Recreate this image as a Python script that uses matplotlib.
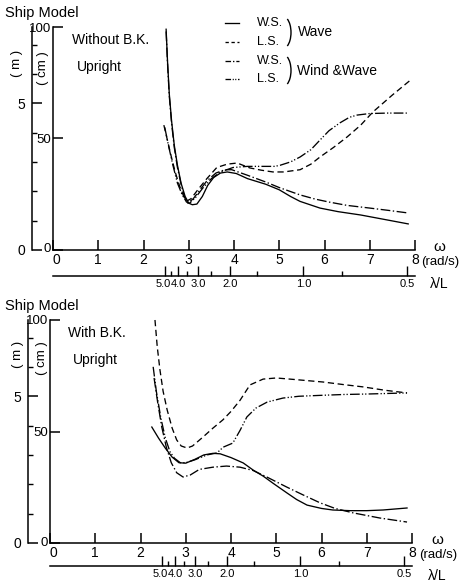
import numpy as np
import matplotlib
matplotlib.use("Agg")
import matplotlib.pyplot as plt
from matplotlib.lines import Line2D
from matplotlib.patches import Arc
from matplotlib.transforms import ScaledTranslation

plt.rcParams['font.family'] = ['Liberation Sans', 'DejaVu Sans']
plt.rcParams['lines.scale_dashes'] = False

# ---------------- data: amplitude (cm) versus wave frequency omega (rad/s) ----------------
# Upper panel: without bilge keels, upright
a_ws_wave_w  = [2.50, 2.53, 2.57, 2.62, 2.68, 2.75, 2.83, 2.92, 3.00, 3.08, 3.18, 3.30, 3.42, 3.55, 3.70, 3.85,
                4.05, 4.30, 4.70, 5.00, 5.25, 5.46, 5.90, 6.30, 6.80, 7.30, 7.85]
a_ws_wave_cm = [99.0, 85.0, 70.0, 58.0, 47.0, 38.0, 30.0, 24.0, 21.0, 20.3, 20.6, 24.0, 29.0, 32.5, 34.5, 35.0,
                34.3, 32.0, 29.5, 27.0, 24.0, 21.8, 18.8, 17.2, 15.7, 13.8, 11.7]

a_ls_wave_w  = [2.45, 2.52, 2.60, 2.70, 2.80, 2.90, 2.96, 3.05, 3.20, 3.40, 3.62, 3.85, 4.07, 4.35, 4.60, 4.86,
                5.10, 5.46, 5.70, 5.90, 6.20, 6.50, 6.80, 7.07, 7.50, 7.93]
a_ls_wave_cm = [56.0, 50.0, 43.0, 35.0, 28.5, 23.5, 22.0, 23.0, 27.0, 32.0, 37.0, 38.5, 39.0, 36.8, 35.8, 35.0,
                35.0, 36.0, 38.5, 41.7, 46.0, 50.7, 56.0, 61.9, 69.5, 76.7]

a_ws_ww_w  = [2.50, 2.53, 2.57, 2.62, 2.68, 2.75, 2.83, 2.91, 2.98, 3.10, 3.25, 3.40, 3.60, 3.80, 3.95, 4.30,
              4.70, 5.00, 5.46, 5.80, 6.10, 6.50, 7.00, 7.40, 7.85]
a_ws_ww_cm = [98.0, 84.0, 69.0, 57.0, 46.0, 37.0, 29.5, 23.5, 21.0, 23.0, 27.0, 31.0, 34.5, 36.0, 36.0, 33.5,
              30.5, 28.0, 24.7, 22.8, 21.5, 20.0, 18.8, 17.8, 16.6]

a_ls_ww_w  = [2.47, 2.55, 2.65, 2.75, 2.85, 2.95, 3.02, 3.15, 3.30, 3.50, 3.70, 3.98, 4.30, 4.60, 4.90, 5.02,
              5.25, 5.46, 5.70, 5.90, 6.10, 6.34, 6.55, 6.72, 7.00, 7.40, 7.82]
a_ls_ww_cm = [55.0, 47.0, 38.0, 30.0, 25.0, 21.5, 21.0, 23.5, 27.5, 32.0, 35.0, 37.0, 37.5, 37.5, 37.5, 38.0,
              39.5, 41.7, 45.0, 49.3, 53.5, 57.0, 59.5, 60.5, 61.2, 61.4, 61.4]

# Lower panel: with bilge keels, upright
b_ws_wave_w  = [2.25, 2.40, 2.55, 2.70, 2.85, 3.00, 3.20, 3.40, 3.60, 3.76, 4.00, 4.27, 4.49, 4.71, 4.95,
                5.24, 5.45, 5.68, 6.00, 6.25, 6.63, 7.00, 7.36, 7.89]
b_ws_wave_cm = [52.0, 47.0, 42.5, 38.5, 36.0, 35.8, 37.5, 39.5, 40.2, 40.0, 38.3, 35.9, 32.7, 30.0, 26.5,
                22.4, 19.5, 17.0, 15.5, 14.8, 14.5, 14.5, 14.8, 15.7]

b_ls_wave_w  = [2.32, 2.37, 2.43, 2.50, 2.59, 2.70, 2.80, 2.90, 3.03, 3.15, 3.38, 3.60, 3.82, 4.00, 4.20,
                4.42, 4.71, 5.00, 5.30, 6.03, 6.50, 6.92, 7.40, 7.89]
b_ls_wave_cm = [100.0, 88.0, 77.6, 68.0, 59.6, 51.5, 46.2, 43.5, 42.6, 43.5, 47.5, 51.5, 55.2, 59.0, 64.0,
                70.9, 73.5, 74.0, 73.5, 72.2, 71.0, 70.0, 68.5, 67.3]

b_ws_ww_w  = [2.30, 2.38, 2.47, 2.57, 2.68, 2.80, 2.94, 3.10, 3.30, 3.60, 3.90, 4.20, 4.49, 4.80, 5.24,
              5.60, 5.97, 6.30, 6.70, 7.29, 7.89]
b_ws_ww_cm = [74.0, 63.0, 52.0, 43.0, 36.0, 31.5, 29.6, 30.5, 33.0, 34.0, 34.5, 34.0, 32.5, 29.5, 25.0,
              21.5, 18.0, 15.5, 13.5, 11.2, 9.4]

b_ls_ww_w  = [2.28, 2.35, 2.45, 2.55, 2.65, 2.75, 2.88, 3.00, 3.20, 3.47, 3.69, 3.83, 4.04, 4.20, 4.35,
              4.55, 4.80, 5.15, 5.50, 5.97, 6.50, 7.00, 7.89]
b_ls_ww_cm = [79.0, 68.0, 56.0, 47.0, 41.0, 38.0, 36.0, 36.0, 37.3, 39.5, 40.4, 43.0, 44.8, 50.5, 56.5,
              60.5, 63.2, 65.0, 65.8, 66.2, 66.6, 66.8, 67.3]

# axis scales and tick labels
omega_ticks = [0, 1, 2, 3, 4, 5, 6, 7, 8]
cm_ticks = [0, 50, 100]
m_major = [0, 5]
m_minor = [1, 2, 3, 4, 6, 7]
m_top = 7.61                       # metres at the 100 cm mark of the scale
lam_major = [5.0, 4.0, 3.0, 2.0, 1.0, 0.5]
lam_major_labels = ['5.0', '4.0', '3.0', '2.0', '1.0', '0.5']
lam_minor = [4.5, 3.5, 2.5, 1.5, 0.75]
lam_const = 30.6                   # deep water: lambda/L = (2*pi*g/L) / omega**2


def lam_to_omega(v):
    return np.sqrt(lam_const / np.asarray(v, dtype=float))


# ---------------- styles ----------------
STY = {
    'ws_wave': dict(ls='-'),
    'ls_wave': dict(ls=(0, (4.5, 2.6))),
    'ws_ww':   dict(ls=(0, (7.0, 1.8, 1.0, 1.8))),
    'ls_ww':   dict(ls=(0, (7.0, 1.6, 0.9, 1.4, 0.9, 1.6))),
}
LW = 0.95

W, H = 461, 588
fig = plt.figure(figsize=(W / 100, H / 100), dpi=100)


def fx(px):
    return px / W


def fy(py):
    return 1 - py / H


def ftext(px, py, s, **kw):
    kw.setdefault('fontsize', 10)
    kw.setdefault('va', 'center')
    kw.setdefault('ha', 'left')
    fig.text(fx(px), fy(py), s, **kw)


def shift(label, dx_px, dy_px=0):
    label.set_transform(label.get_transform()
                        + ScaledTranslation(dx_px / 100, dy_px / 100, fig.dpi_scale_trans))


def panel(left, right, top, bottom, outer, lam_y, curves, title_y, note1, note1_y, note2_y,
          m_lab, cm_lab, right_x_y):
    wfrac = fx(right) - fx(left)
    hfrac = (bottom - top) / H

    # main amplitude axes (cm)
    ax = fig.add_axes([fx(left), fy(bottom), wfrac, hfrac])
    ax.patch.set_visible(False)
    ax.set_xlim(0, 8)
    ax.set_ylim(0, 100)
    for s in ('top', 'right'):
        ax.spines[s].set_visible(False)
    for s in ('left', 'bottom'):
        ax.spines[s].set_linewidth(1.1)
    ax.set_xticks(omega_ticks)
    ax.set_xticklabels([str(t) for t in omega_ticks])
    ax.set_yticks(cm_ticks)
    ax.set_yticklabels([str(t) for t in cm_ticks])
    ax.tick_params(axis='x', direction='in', length=7.5, width=1.1, pad=2.5, labelsize=10)
    ax.tick_params(axis='y', direction='in', length=7, width=1.1, pad=1, labelsize=9.5)
    # nudge the origin labels apart
    shift(ax.get_xticklabels()[0], 3)
    shift(ax.get_yticklabels()[0], -1, 2)
    for key, (w, c) in curves.items():
        ax.plot(w, c, color='black', lw=LW, clip_on=False, **STY[key])

    # metre scale on the outer left
    axm = fig.add_axes([fx(outer), fy(bottom), 0.0005, hfrac])
    axm.patch.set_visible(False)
    axm.set_ylim(0, m_top)
    for s in ('top', 'right', 'bottom'):
        axm.spines[s].set_visible(False)
    axm.spines['left'].set_linewidth(1.1)
    axm.set_xticks([])
    axm.set_yticks(m_major)
    axm.set_yticklabels([str(t) for t in m_major])
    axm.set_yticks(m_minor, minor=True)
    axm.tick_params(axis='y', which='major', direction='in', length=7, width=1.1, pad=5, labelsize=10)
    axm.tick_params(axis='y', which='minor', direction='in', length=3.5, width=1.0)

    # wavelength / ship-length scale
    axl = fig.add_axes([fx(left), fy(lam_y), wfrac, 0.0005])
    axl.patch.set_visible(False)
    axl.set_xlim(0, 8)
    for s in ('top', 'right', 'left'):
        axl.spines[s].set_visible(False)
    axl.spines['bottom'].set_linewidth(1.1)
    axl.set_yticks([])
    axl.set_xticks(lam_to_omega(lam_major))
    axl.set_xticklabels(lam_major_labels)
    axl.set_xticks(lam_to_omega(lam_minor), minor=True)
    axl.tick_params(axis='x', which='major', direction='in', length=7, width=1.0, pad=2, labelsize=8)
    axl.tick_params(axis='x', which='minor', direction='in', length=3.5, width=1.0)
    lam_labels = axl.get_xticklabels()
    shift(lam_labels[0], -1.5)
    shift(lam_labels[2], 1.0)

    # annotations
    ftext(5, title_y, 'Ship Model', fontsize=10.5)
    ftext(m_lab[0], m_lab[1], '( m )', rotation=90, ha='center', fontsize=9.5)
    ftext(cm_lab[0], cm_lab[1], '( cm )', rotation=90, ha='center', fontsize=9.5)
    ftext(note1[0], note1_y, note1[1], fontsize=10)
    ftext(note1[2], note2_y, 'Upright', fontsize=10)
    rx, wy, ry, ly = right_x_y
    ftext(rx + 18, wy, 'ω', ha='center', fontsize=11)
    ftext(rx, ry, '(rad/s)', fontsize=9.5)
    ftext(rx + 9, ly, 'λ/L', fontsize=10)
    return ax


panel(53, 415, 27, 250, 32, 276,
      {'ws_wave': (a_ws_wave_w, a_ws_wave_cm), 'ls_wave': (a_ls_wave_w, a_ls_wave_cm),
       'ws_ww': (a_ws_ww_w, a_ws_ww_cm), 'ls_ww': (a_ls_ww_w, a_ls_ww_cm)},
      13, (72, 'Without B.K.', 77), 40, 67, (17, 63), (43, 68), (421, 247, 262, 284))

panel(50, 412, 320, 543, 28, 566,
      {'ws_wave': (b_ws_wave_w, b_ws_wave_cm), 'ls_wave': (b_ls_wave_w, b_ls_wave_cm),
       'ws_ww': (b_ws_ww_w, b_ws_ww_cm), 'ls_ww': (b_ls_ww_w, b_ls_ww_cm)},
      306, (68, 'With B.K.', 73), 333, 360, (18, 354), (42, 358), (419, 540, 555, 576))

# key in the upper panel
key_rows = [('ws_wave', 'W.S.', 23, '-'),
            ('ls_wave', 'L.S.', 42, (0, (2.4, 1.9))),
            ('ws_ww', 'W.S.', 61, (0, (4.0, 1.4, 1.0, 1.4))),
            ('ls_ww', 'L.S.', 79, (0, (4.0, 1.2, 0.8, 1.0, 0.8, 1.2)))]
for key, lab, yy, ls in key_rows:
    fig.add_artist(Line2D([fx(225), fx(239)], [fy(yy), fy(yy)], color='black', lw=LW, ls=ls,
                          transform=fig.transFigure))
    ftext(257, yy, lab, fontsize=9)

for yc in (32.5, 70.5):
    fig.add_artist(Arc((fx(283), fy(yc)), 16 / W, 32 / H, theta1=-68, theta2=68,
                       color='black', lw=1.0, transform=fig.transFigure))
ftext(298, 32, 'Wave', fontsize=10)
ftext(297, 71, 'Wind &Wave', fontsize=10)

fig.savefig('out.png', dpi=100, facecolor='white')
